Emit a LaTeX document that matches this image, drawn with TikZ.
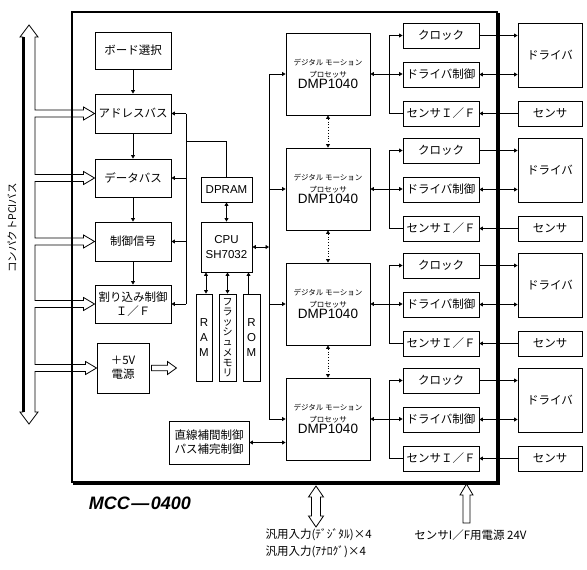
\documentclass[tikz,border=0pt]{standalone}
\usepackage{fontspec}
\setmainfont{Noto Sans CJK JP}
\newfontfamily\lsans{Liberation Sans}
\usetikzlibrary{arrows.meta,calc}

\begin{document}
\begin{tikzpicture}[
  x=1pt, y=-1pt,
  font=\fontsize{11.5}{14}\selectfont,
  bx/.style={draw,line width=0.9pt,fill=white,inner sep=0pt,align=center},
  lbox/.style={bx,minimum width=76pt,minimum height=38pt},
  rbox/.style={bx,minimum width=76pt,minimum height=25pt},
  dmp/.style={bx,minimum width=84pt,minimum height=82pt,font=\fontsize{7.5}{11.5}\selectfont},
  mem/.style={bx,minimum width=17pt,minimum height=87pt,font=\lsans\fontsize{11.5}{15}\selectfont},
  ltn/.style={font=\lsans\fontsize{11.5}{15}\selectfont},
  ln/.style={line width=0.8pt},
  ar/.style={ln,-{Triangle[length=3.5pt,width=4pt]}},
  dar/.style={ln,{Triangle[length=3.5pt,width=4pt]}-{Triangle[length=3.5pt,width=4pt]}},
  dtd/.style={dar,dotted},
  opn/.style={draw,line width=0.8pt,fill=white}]
\useasboundingbox (0,0) rectangle (587,570);

% ---------------- left column ----------------
\node[lbox,minimum height=37pt] (sel) at (133,50.5) {ボード選択};
\node[lbox,minimum height=39pt] (adr) at (133,113.5) {アドレスバス};
\node[lbox] (dat) at (133,178) {データバス};
\node[lbox,minimum height=39pt] (ctl) at (133,241.5) {制御信号};
\node[lbox] (irq) at (133,304) {割り込み制御\\Ｉ／Ｆ};
\node[bx,minimum width=52pt,minimum height=50pt] (pwr) at (123,368) {＋5V\\電源};
\draw[ar] (sel.south) -- (adr.north);
\draw[ar] (adr.south) -- (dat.north);
\draw[ar] (dat.south) -- (ctl.north);
\draw[ar] (ctl.south) -- (irq.north);
\draw[opn] ($(pwr.east)+(2,-2.8)$) -- ++(16,0) -- ++(0,-3.7) -- ++(9,6.5)
  -- ++(-9,6.5) -- ++(0,-3.7) -- ++(-16,0) -- cycle;

% ---------------- compact PCI bus ----------------
\coordinate (busr) at (35,0);
\draw[opn] (29,25) -- (38,37) -- (35,37)
  \foreach \b in {adr,dat,ctl,irq,pwr}{
    -- ($(busr |- \b.west)+(0,-3.5)$) -- ($(\b.west)+(-11,-3.5)$)
    -- ($(\b.west)+(-11,-6.5)$) -- (\b.west) -- ($(\b.west)+(-11,6.5)$)
    -- ($(\b.west)+(-11,3.5)$) -- ($(busr |- \b.west)+(0,3.5)$)}
  -- (35,412) -- (38,412) -- (29,424) -- (20,412) -- (23,412) -- (23,37)
  -- (20,37) -- cycle;
\draw[line width=2.2pt] (23.5,37) -- (23.5,412);
\node[rotate=90,font=\fontsize{10.5}{12}\selectfont] (buslbl) at (12,228) {コンパクトPCIバス};

% ---------------- board frame ----------------
\draw[line width=2pt] (72,12) rectangle (497,482);
\draw[line width=2pt] (498.5,13) -- (498.5,483.5) -- (73,483.5);
\node[font=\lsans\bfseries\itshape\fontsize{18}{20}\selectfont] (mcc) at (140,503) {MCC\kern1.5pt—\kern1.5pt0400};

% ---------------- CPU and memory ----------------
\node[bx,ltn,minimum width=51pt,minimum height=25pt] (dpram) at (226.5,189.5) {DPRAM};
\node[bx,ltn,minimum width=51pt,minimum height=50pt] (cpu) at (226.5,247) {CPU\\SH7032};
\node[mem,minimum width=16pt] (ram) at (204,337.5) {R\\A\\M};
\node[mem,font=\fontsize{10}{10.2}\selectfont] (flash) at (227.5,337.5) {フ\\ラ\\ッ\\シ\\ュ\\メ\\モ\\リ};
\node[mem] (rom) at (251.5,337.5) {R\\O\\M};
\draw[dar] (dpram) -- (cpu);
\draw[dar] ([xshift=2pt]ram.north) -- ([xshift=2pt]ram.north |- cpu.south);
\draw[dar] (flash.north) -- (flash.north |- cpu.south);
\draw[ar] ([xshift=-3pt]rom.north) -- ([xshift=-3pt]rom.north |- cpu.south);
\coordinate (lj) at (186,141);
\draw[ln] (lj |- adr.east) -- (lj |- irq.east);
\foreach \b in {adr,dat,ctl,irq} \draw[ar] (lj |- \b.east) -- (\b.east);
\draw[ln] (lj) -- (lj -| dpram.north) -- (dpram.north);

% ---------------- four motion channels ----------------
\coordinate (dbus) at (269,0);
\coordinate (jx) at (389,0);
\foreach \i/\c in {1/74,2/189,3/304,4/419}{
  \node[dmp] (dmp\i) at (328,\c) {デジタル モーション\\プロセッサ\\{\lsans\fontsize{13.5}{15}\selectfont DMP1040}};
  \node[rbox] (clk\i) at (441,\c-38.5) {クロック};
  \node[rbox] (drv\i) at (441,\c+0.5) {ドライバ制御};
  \node[rbox] (sif\i) at (441,\c+39.5) {センサＩ／Ｆ};
  \node[bx,minimum width=64pt,minimum height=64pt] (dri\i) at (550,\c-19) {ドライバ};
  \node[bx,minimum width=64pt,minimum height=25pt] (sen\i) at (550,\c+39.5) {センサ};
  \draw[ar] (dbus |- dmp\i.west) -- (dmp\i.west);
  \draw[dar] (dmp\i.east) -- (dmp\i.east -| drv\i.west);
  \draw[ln] (jx |- clk\i.west) -- (jx |- sif\i.west) -- (sif\i.west);
  \draw[ar] (jx |- clk\i.west) -- (clk\i.west);
  \draw[ar] (clk\i.east) -- (clk\i.east -| dri\i.west);
  \draw[dar] (drv\i.east) -- (drv\i.east -| dri\i.west);
  \draw[ar] (sen\i.west) -- (sif\i.east);
}
\foreach \i/\j in {1/2,2/3,3/4} \draw[dtd] (dmp\i.south) -- (dmp\j.north);
\draw[ln] (dbus |- dmp1.west) -- (dbus |- dmp4.west);
\draw[dar] (cpu.east) -- (cpu.east -| dbus);
\node[bx,minimum width=80pt,minimum height=43pt] (lin) at (209,442.5) {直線補間制御\\パス補完制御};
\draw[dar] (lin.east) -- (lin.east -| dmp4.west);

% ---------------- external inputs ----------------
\draw[opn] (316,486) -- (323.5,497) -- (320.5,497) -- (320.5,516) -- (323.5,516)
  -- (316,527) -- (308.5,516) -- (311.5,516) -- (311.5,497) -- (308.5,497) -- cycle;
\draw[opn] (466.5,484) -- (473,495) -- (470,495) -- (470,523) -- (463,523)
  -- (463,495) -- (460,495) -- cycle;
\node[anchor=west,align=left,font=\fontsize{11.5}{17}\selectfont] (gin) at (262,543.5)
  {汎用入力(ﾃﾞｼﾞﾀﾙ)×4\\汎用入力(ｱﾅﾛｸﾞ)×4};
\node[font=\fontsize{11.5}{14}\selectfont] (spw) at (470.5,535) {センサI／F用電源 24V};
\end{tikzpicture}
\end{document}
